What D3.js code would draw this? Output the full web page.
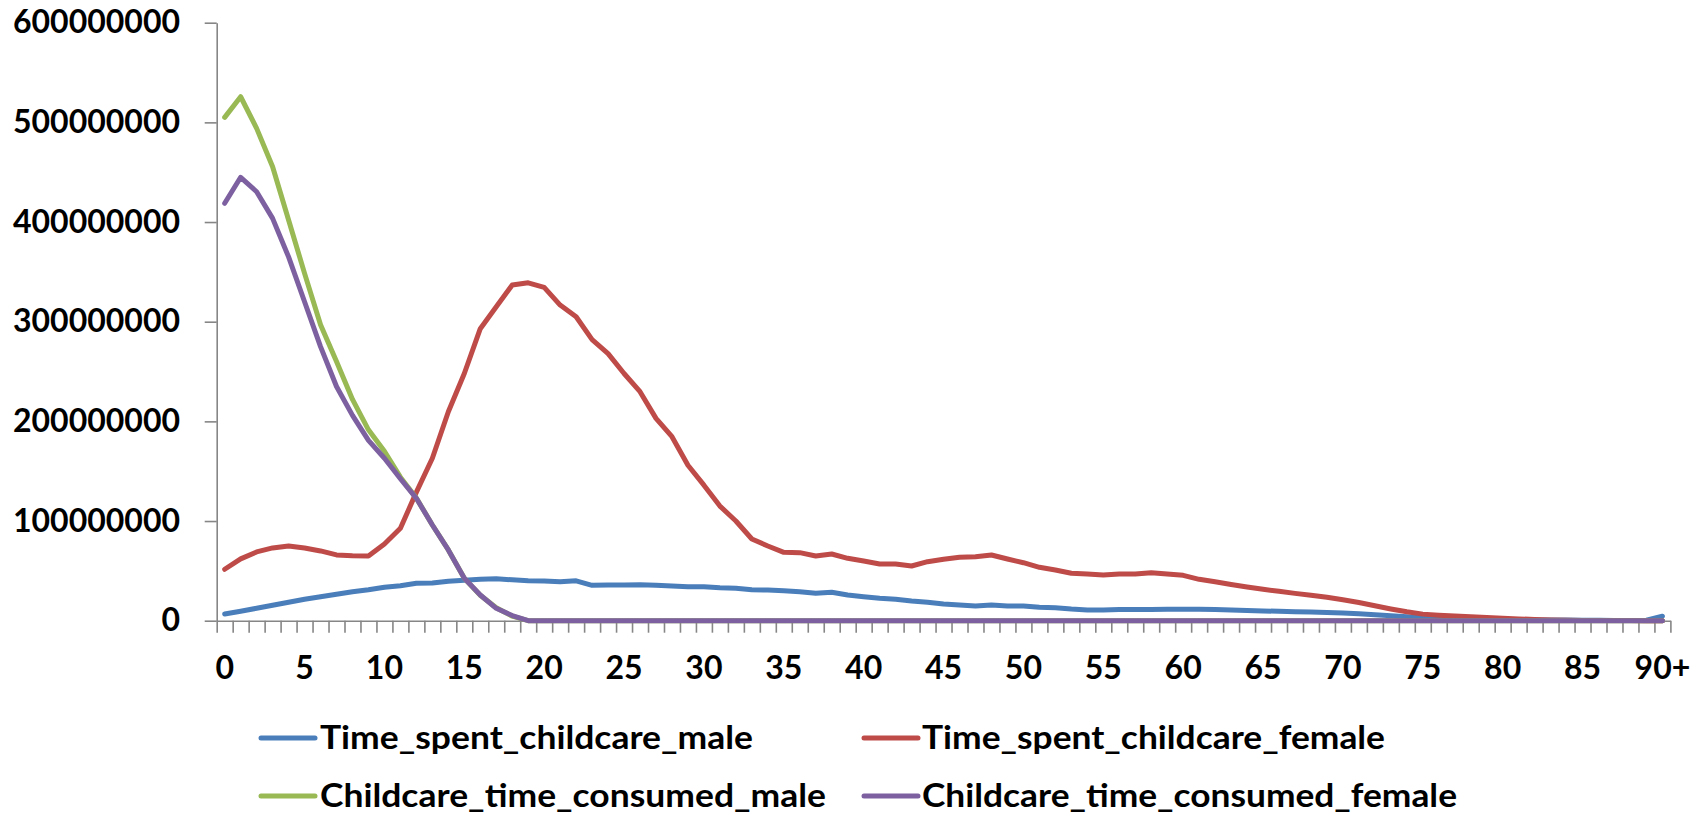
<!DOCTYPE html>
<html>
<head>
<meta charset="utf-8">
<script src="https://cdn.jsdelivr.net/npm/d3@7"></script>
<style>
  html, body { margin: 0; padding: 0; background: #fff; }
  svg { display: block; }
  text { font-family: Lato, "Open Sans", "DejaVu Sans", sans-serif; font-weight: bold; fill: #000; }
</style>
</head>
<body>
<svg id="chart" width="1707" height="818"></svg>
<script>
// ---- data (values in millions) ----
const ages = d3.range(91).map(i => i === 90 ? "90+" : String(i));
const yTicks = [0, 100000000, 200000000, 300000000, 400000000, 500000000, 600000000];
const xTickLabels = ["0","5","10","15","20","25","30","35","40","45","50","55","60","65","70","75","80","85","90+"];

const timeSpentMale = [
  6.7, 9.5, 12.5, 15.5, 18.5, 21.5, 24, 26.5, 29, 31,
  33.5, 35, 37.5, 37.8, 39.5, 40.5, 41.5, 42, 41, 40.2,
  39.8, 39, 40, 35.5, 35.8, 35.8, 36.1, 35.5, 34.8, 34.1,
  34, 33, 32.5, 31, 30.8, 30, 29.1, 27.5, 28.5, 25.8,
  24.1, 22.5, 21.5, 19.8, 18.5, 16.8, 15.8, 14.7, 15.8, 14.7,
  14.7, 13.4, 13.1, 11.7, 10.7, 10.7, 11.2, 11.2, 11.3, 11.6,
  11.6, 11.4, 11.2, 10.8, 10.3, 9.8, 9.4, 9.0, 8.7, 8.3,
  7.8, 7.0, 6.0, 5.0, 4.0, 3.2, 2.6, 2.1, 1.7, 1.4,
  1.1, 0.9, 0.8, 0.7, 0.6, 0.5, 0.4, 0.3, 0.3, 0.5,
  4.5
];
const timeSpentFemale = [
  51.6, 62, 69, 73, 75, 73, 70, 66, 65.2, 65,
  77, 92.7, 129, 163, 209.7, 248, 293, 315, 336.8, 339,
  334.5, 316.7, 305, 282, 268, 248, 229.8, 203, 184.6, 156,
  136, 115, 100, 82, 75, 68.6, 68.3, 64.9, 66.9, 62.6,
  59.9, 56.9, 56.9, 54.9, 59.2, 61.6, 63.6, 64.2, 65.9, 61.9,
  58.2, 53.6, 50.9, 47.6, 46.9, 45.9, 46.9, 46.9, 48.2, 46.9,
  45.5, 41.5, 39, 36.3, 33.8, 31.5, 29.5, 27.4, 25.6, 23.5,
  21, 18.2, 15, 11.8, 8.9, 6.6, 5.5, 4.7, 4, 3.2,
  2.5, 1.8, 1.2, 0.8, 0.5, 0.3, 0.2, 0.1, 0.1, 0,
  0
];
const consumedMale = [
  505, 525.7, 494, 455.5, 402, 348.5, 297, 260, 222, 191.5,
  170, 144, 123, 96, 71, 42.5, 25.5, 13, 4.5, 0,
  0,0,0,0,0,0,0,0,0,0,
  0,0,0,0,0,0,0,0,0,0,
  0,0,0,0,0,0,0,0,0,0,
  0,0,0,0,0,0,0,0,0,0,
  0,0,0,0,0,0,0,0,0,0,
  0,0,0,0,0,0,0,0,0,0,
  0,0,0,0,0,0,0,0,0,0,
  0
];
const consumedFemale = [
  418.8, 444.9, 430.4, 403.7, 365, 320, 275, 235, 206, 181,
  163, 142.5, 122.8, 96, 71, 42.5, 25.8, 12.4, 5.2, 0,
  0,0,0,0,0,0,0,0,0,0,
  0,0,0,0,0,0,0,0,0,0,
  0,0,0,0,0,0,0,0,0,0,
  0,0,0,0,0,0,0,0,0,0,
  0,0,0,0,0,0,0,0,0,0,
  0,0,0,0,0,0,0,0,0,0,
  0,0,0,0,0,0,0,0,0,0,
  0
];
const seriesNames = ["Time_spent_childcare_male", "Time_spent_childcare_female",
                     "Childcare_time_consumed_male", "Childcare_time_consumed_female"];
const seriesColors = ["#4A7EBB", "#BE4B48", "#98B954", "#7D60A0"];
const MILLION = 1e6;

// ---- layout ----
const svg = d3.select("#chart");
const x0 = 216.7, x1 = 1670.4, yBottom = 620.7, yTop = 22.7;

const xBand = d3.scaleBand().domain(ages).range([x0, x1]).padding(0);
const xIdx = d3.scaleLinear().domain([0, ages.length]).range([x0, x1]);
const y = d3.scaleLinear().domain([0, 600000000]).range([yBottom, yTop]);
const cx = a => xBand(a) + xBand.bandwidth() / 2;

const axisColor = "#868686";

// y axis
const gy = svg.append("g").attr("transform", `translate(${x0},0)`)
  .call(d3.axisLeft(y).tickValues(yTicks).tickFormat(d3.format("d"))
        .tickSize(12).tickSizeOuter(0).tickPadding(24.7));
gy.selectAll("path, line").attr("stroke", axisColor).attr("stroke-width", 1.6);
gy.selectAll("text").attr("font-size", 32).attr("fill", "#000");

// x axis ticks (category boundaries)
const gx = svg.append("g").attr("transform", `translate(0,${yBottom})`)
  .call(d3.axisBottom(xIdx).tickValues(d3.range(ages.length + 1)).tickFormat("")
        .tickSize(12).tickSizeOuter(0));
gx.selectAll("path, line").attr("stroke", axisColor).attr("stroke-width", 1.6);

// x labels
const gxl = svg.append("g").attr("transform", `translate(0,${yBottom})`)
  .call(d3.axisBottom(xBand).tickValues(xTickLabels).tickSize(0).tickPadding(36));
gxl.select(".domain").remove();
gxl.selectAll("text").attr("font-size", 32).attr("fill", "#000");

// lines
const allSeries = [timeSpentMale, timeSpentFemale, consumedMale, consumedFemale];
const line = d3.line()
  .x((d, i) => cx(ages[i]))
  .y(d => y(d * MILLION));

allSeries.forEach((vals, k) => {
  svg.append("path")
    .datum(vals)
    .attr("fill", "none")
    .attr("stroke", seriesColors[k])
    .attr("stroke-width", 5)
    .attr("stroke-linejoin", "round")
    .attr("stroke-linecap", "round")
    .attr("d", line);
});

// legend
const legendPos = [
  {lx: 261, tx: 320, y: 738, w: 433},
  {lx: 864, tx: 922, y: 738, w: 463},
  {lx: 261, tx: 320, y: 796, w: 506},
  {lx: 864, tx: 922, y: 796, w: 535}
];
const lg = svg.append("g");
seriesNames.forEach((name, k) => {
  const p = legendPos[k];
  lg.append("line")
    .attr("x1", p.lx).attr("x2", p.lx + 54)
    .attr("y1", p.y).attr("y2", p.y)
    .attr("stroke", seriesColors[k]).attr("stroke-width", 5)
    .attr("stroke-linecap", "round");
  lg.append("text")
    .attr("x", p.tx).attr("y", p.y)
    .attr("dy", "0.35em")
    .attr("font-size", 32)
    .attr("textLength", p.w)
    .attr("lengthAdjust", "spacingAndGlyphs")
    .text(name);
});
</script>
</body>
</html>
